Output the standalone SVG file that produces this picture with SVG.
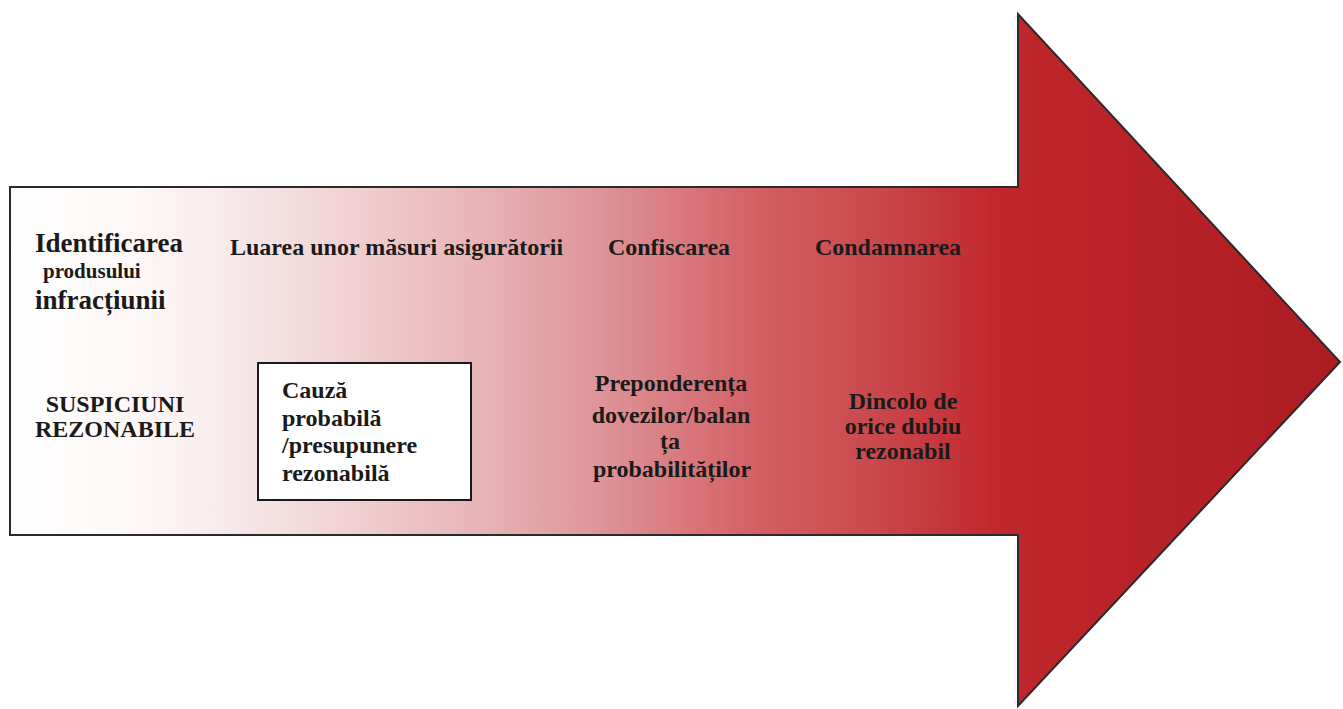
<svg xmlns="http://www.w3.org/2000/svg" width="1343" height="709" viewBox="0 0 1343 709">
<defs>
<linearGradient id="grad" gradientUnits="userSpaceOnUse" x1="10" y1="0" x2="1340" y2="0">
<stop offset="0" stop-color="#ffffff"/>
<stop offset="0.105" stop-color="#fdf6f6"/>
<stop offset="0.195" stop-color="#f5e2e3"/>
<stop offset="0.353" stop-color="#e8b4b6"/>
<stop offset="0.444" stop-color="#de9498"/>
<stop offset="0.564" stop-color="#d35f63"/>
<stop offset="0.654" stop-color="#c9474b"/>
<stop offset="0.744" stop-color="#c1272c"/>
<stop offset="1" stop-color="#ac1c22"/>
</linearGradient>
<style>
text{font-family:"Liberation Serif","Times New Roman","DejaVu Serif",serif;font-weight:bold;fill:#1a1a1a;font-size:24px;}
.big{font-size:27px;}
.small{font-size:21px;}
.c{text-anchor:middle;}
</style>
</defs>
<rect width="1343" height="709" fill="#ffffff"/>
<g id="arrow">
<path d="M10,187 L1018,187 L1018,14 L1340,362 L1018,706 L1018,535 L10,535 Z" fill="url(#grad)" stroke="#2a2a2a" stroke-width="2" stroke-linejoin="miter"/>
</g>
<g id="connectors"></g>
<g id="identificarea">
<text class="big" x="35" y="252">Identificarea</text>
<text class="small" x="43" y="278">produsului</text>
<text class="big" x="35" y="309">infracțiunii</text>
</g>
<g id="luarea">
<text x="230" y="255">Luarea unor măsuri asigurătorii</text>
</g>
<g id="confiscarea">
<text class="c" x="669" y="255">Confiscarea</text>
</g>
<g id="condamnarea">
<text class="c" x="888" y="255">Condamnarea</text>
</g>
<g id="suspiciuni">
<text class="c" x="115" y="412">SUSPICIUNI</text>
<text class="c" x="115" y="437">REZONABILE</text>
</g>
<g id="cauza">
<rect x="258" y="363" width="213" height="137" fill="#ffffff" stroke="#1a1a1a" stroke-width="2"/>
<text x="282" y="398">Cauză</text>
<text x="282" y="426">probabilă</text>
<text x="282" y="453">/presupunere</text>
<text x="282" y="481">rezonabilă</text>
</g>
<g id="preponderenta">
<text class="c" x="671" y="391">Preponderența</text>
<text class="c" x="671" y="423">dovezilor/balan</text>
<text class="c" x="670" y="449">ța</text>
<text class="c" x="672" y="477">probabilităților</text>
</g>
<g id="dincolo">
<text class="c" x="903" y="409">Dincolo de</text>
<text class="c" x="903" y="434">orice dubiu</text>
<text class="c" x="903" y="459">rezonabil</text>
</g>
</svg>
